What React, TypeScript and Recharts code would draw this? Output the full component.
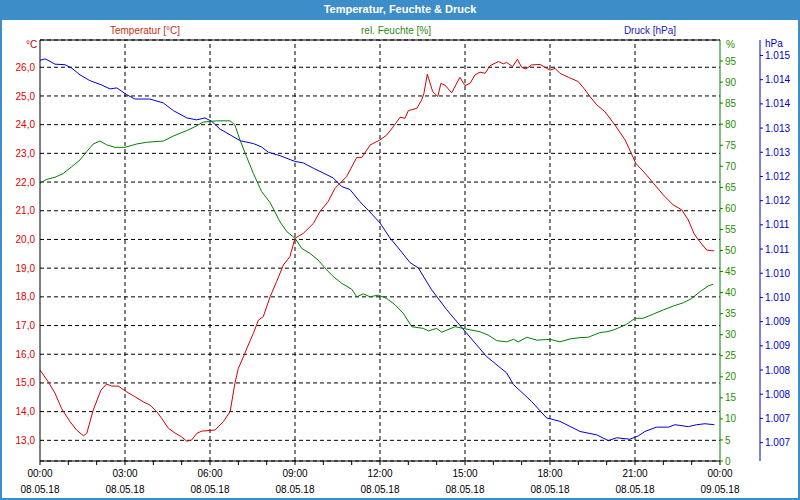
import React from 'react'
import {
  LineChart,
  Line,
  XAxis,
  YAxis,
  CartesianGrid,
  ReferenceLine,
} from 'recharts'

// Hours since 08.05.18 00:00 and readings
const TEMP_HOURS = [
  0, 0.29, 0.53, 0.76, 1.06, 1.29, 1.53, 1.65, 1.88, 2.15, 2.35, 2.53, 2.76, 3.06, 3.35, 3.65, 3.88,
  4.12, 4.29, 4.53, 4.76, 5.0, 5.18, 5.35, 5.53, 5.7, 6.18, 6.47, 6.71, 6.88, 7.0, 7.18, 7.35, 7.53,
  7.71, 7.88, 8.12, 8.35, 8.59, 8.82, 9.0, 9.29, 9.65, 9.88, 10.17, 10.41, 10.82, 11.18, 11.36, 11.65,
  12.0, 12.24, 12.47, 12.71, 12.88, 13.0, 13.3, 13.47, 13.55, 13.67, 13.86, 14.04, 14.15, 14.29, 14.53,
  14.82, 15.0, 15.18, 15.35, 15.53, 15.71, 15.88, 16.18, 16.35, 16.47, 16.68, 16.85, 17.0, 17.15, 17.35,
  17.65, 17.82, 18.0, 18.18, 18.35, 18.65, 19.0, 19.24, 19.41, 19.65, 19.94, 20.29, 20.65, 21.03, 21.35,
  21.65, 22.0, 22.35, 22.65, 22.88, 23.08, 23.24, 23.53, 23.79,
]
const TEMP_VALUES = [
  15.45, 15.04, 14.64, 14.11, 13.65, 13.36, 13.16, 13.24, 14.06, 14.75, 14.96, 14.89, 14.89, 14.69, 14.52,
  14.34, 14.23, 14.0, 13.77, 13.42, 13.26, 13.12, 12.97, 13.01, 13.24, 13.32, 13.36, 13.65, 14.0, 14.99,
  15.51, 15.91, 16.32, 16.73, 17.19, 17.31, 18.0, 18.53, 19.11, 19.4, 20.04, 20.21, 20.56, 20.97, 21.32,
  21.78, 22.19, 22.86, 22.86, 23.29, 23.47, 23.64, 23.93, 24.26, 24.22, 24.49, 24.57, 24.86, 25.09, 25.76,
  25.15, 24.98, 25.44, 25.38, 25.11, 25.65, 25.36, 25.44, 25.73, 25.83, 25.79, 26.05, 26.2, 26.12, 26.17,
  26.02, 26.28, 26.0, 25.94, 26.08, 26.1, 26.0, 25.9, 25.96, 25.79, 25.65, 25.5, 25.21, 24.98, 24.69,
  24.45, 23.99, 23.47, 22.65, 22.31, 21.96, 21.55, 21.2, 21.03, 20.68, 20.21, 19.98, 19.63, 19.6,
]

const HUM_HOURS = [
  0, 0.24, 0.53, 0.82, 1.12, 1.41, 1.65, 1.88, 2.12, 2.35, 2.65, 3.0, 3.41, 3.76, 4.35, 4.71, 5.18, 5.47,
  5.76, 6.24, 6.71, 6.88, 7.06, 7.29, 7.53, 7.82, 8.12, 8.29, 8.47, 8.71, 9.0, 9.24, 9.53, 9.82, 10.12,
  10.35, 10.65, 11.0, 11.18, 11.41, 11.65, 11.94, 12.24, 12.53, 12.82, 13.12, 13.53, 13.71, 14.0, 14.18,
  14.65, 15.0, 15.53, 15.82, 16.12, 16.47, 16.71, 16.88, 17.18, 17.53, 18.0, 18.35, 18.71, 19.06, 19.35,
  19.76, 20.0, 20.24, 20.71, 21.0, 21.29, 21.65, 22.0, 22.35, 22.71, 23.0, 23.29, 23.59, 23.76,
]
const HUM_VALUES = [
  66.0, 66.9, 67.4, 68.3, 69.9, 71.5, 73.5, 75.3, 76.0, 75.1, 74.5, 74.5, 75.3, 75.7, 76.0, 77.2, 78.5,
  79.4, 80.5, 80.8, 80.8, 79.8, 76.2, 72.3, 68.3, 64.0, 61.4, 59.2, 56.8, 54.5, 52.9, 50.5, 49.3, 47.7,
  45.4, 43.8, 42.2, 40.8, 39.0, 39.7, 39.0, 39.4, 38.6, 37.1, 35.1, 31.9, 31.5, 30.9, 31.5, 30.6, 31.9,
  31.4, 30.7, 29.9, 28.6, 28.3, 28.9, 28.3, 29.4, 28.7, 28.9, 28.3, 29.0, 29.3, 29.4, 30.5, 30.7, 31.1,
  32.5, 33.9, 33.9, 34.9, 35.9, 36.8, 37.6, 38.6, 40.2, 41.6, 42.0,
]

const PRES_HOURS = [
  0, 0.18, 0.35, 0.53, 0.88, 1.12, 1.41, 1.76, 2.18, 2.47, 2.71, 3.06, 3.35, 3.88, 4.35, 4.71, 5.18, 5.53,
  5.82, 6.06, 6.35, 6.71, 7.06, 7.53, 7.82, 8.06, 8.47, 9.0, 9.29, 9.65, 10.0, 10.35, 10.65, 10.94, 11.29,
  11.59, 12.0, 12.35, 12.65, 13.06, 13.35, 13.82, 14.35, 15.0, 15.41, 15.76, 16.47, 16.71, 17.35, 17.88,
  18.35, 19.06, 19.65, 20.06, 20.35, 20.82, 21.12, 21.35, 21.76, 22.18, 22.41, 22.88, 23.18, 23.47, 23.8,
]
const PRES_VALUES = [
  1014.9, 1014.93, 1014.88, 1014.82, 1014.81, 1014.74, 1014.6, 1014.48, 1014.39, 1014.31, 1014.33,
  1014.19, 1014.1, 1014.1, 1014.02, 1013.86, 1013.71, 1013.67, 1013.71, 1013.64, 1013.48, 1013.36,
  1013.24, 1013.18, 1013.11, 1013.0, 1012.93, 1012.81, 1012.78, 1012.67, 1012.57, 1012.47, 1012.29,
  1012.23, 1011.98, 1011.8, 1011.54, 1011.23, 1011.02, 1010.72, 1010.61, 1010.16, 1009.75, 1009.3,
  1009.02, 1008.78, 1008.44, 1008.2, 1007.85, 1007.51, 1007.44, 1007.23, 1007.16, 1007.04, 1007.1,
  1007.07, 1007.14, 1007.23, 1007.32, 1007.32, 1007.37, 1007.33, 1007.37, 1007.39, 1007.37,
]

// axis ticks
const HOUR_TICKS = Array.from({ length: 25 }, (_, i) => i)
const GRID_HOURS = [3, 6, 9, 12, 15, 18, 21]
const TEMP_TICKS = [13, 14, 15, 16, 17, 18, 19, 20, 21, 22, 23, 24, 25, 26]
const HUM_TICKS = [0, 5, 10, 15, 20, 25, 30, 35, 40, 45, 50, 55, 60, 65, 70, 75, 80, 85, 90, 95]
const PRES_TICKS = [
  1007, 1007.5, 1008, 1008.5, 1009, 1009.5, 1010, 1010.5, 1011, 1011.5, 1012, 1012.5, 1013, 1013.5,
  1014, 1014.5, 1015,
]
const TEMP_DOMAIN = [12.28, 26.95]
const PRES_DOMAIN = [1006.62, 1015.32]

const FONT = '"Liberation Sans", Arial, sans-serif'
const FS = 10
const FRAME = '#3d8ec8'
const RED = '#d40000'
const GREEN = '#008000'
const BLUE = '#0000d0'

const toPoints = (hours: number[], values: number[]) =>
  hours.map((h, i) => ({ h, v: values[i] }))

const tempData = toPoints(TEMP_HOURS, TEMP_VALUES)
const humData = toPoints(HUM_HOURS, HUM_VALUES)
const presData = toPoints(PRES_HOURS, PRES_VALUES)

function TimeTick({ x, y, payload }: any) {
  const h = payload.value as number
  if (h % 3 !== 0) return null
  const hh = String(h % 24).padStart(2, '0')
  const date = h === 24 ? '09.05.18' : '08.05.18'
  return (
    <text x={x} y={y} textAnchor="middle" fontSize={FS} fontFamily={FONT} fill="#000">
      <tspan x={x} dy={12}>{`${hh}:00`}</tspan>
      <tspan x={x} dy={16}>{date}</tspan>
    </text>
  )
}

const label = (text: string, color: string, left: number, top: number, anchor = 'center') => (
  <div
    style={{
      position: 'absolute',
      left,
      top,
      transform: anchor === 'center' ? 'translateX(-50%)' : undefined,
      color,
      fontSize: FS,
      fontFamily: FONT,
      whiteSpace: 'nowrap',
      lineHeight: '11px',
    }}
  >
    {text}
  </div>
)

export default function App() {
  return (
    <div style={{ position: 'relative', width: 800, height: 500, background: '#fff', fontFamily: FONT }}>
      <style>{'body{margin:0}'}</style>
      <LineChart
        width={800}
        height={500}
        margin={{ top: 40, right: 0, bottom: 2, left: 0 }}
        style={{ position: 'absolute', left: 0, top: 0 }}
      >
        <CartesianGrid yAxisId="temp" vertical={false} stroke="#000" strokeDasharray="4 3" />
        <XAxis
          dataKey="h"
          type="number"
          domain={[0, 24]}
          ticks={HOUR_TICKS}
          interval={0}
          height={37}
          stroke="#000"
          tickSize={4}
          tickMargin={0}
          tick={<TimeTick />}
          allowDuplicatedCategory={false}
        />
        <YAxis
          yAxisId="temp"
          orientation="left"
          width={40}
          domain={TEMP_DOMAIN}
          ticks={TEMP_TICKS}
          interval={0}
          stroke="#000"
          tickLine={false}
          tickSize={0}
          tickMargin={5}
          tick={{ fill: '#e00000', fontSize: FS, fontFamily: FONT }}
          tickFormatter={(v: number) => v.toFixed(1).replace('.', ',')}
        />
        <YAxis
          yAxisId="hum"
          orientation="right"
          width={40}
          domain={[0, 100]}
          ticks={HUM_TICKS}
          interval={0}
          stroke={GREEN}
          tickSize={3}
          tickMargin={2}
          tick={{ fill: '#1f8f00', fontSize: FS, fontFamily: FONT, textAnchor: 'start' }}
        />
        <YAxis
          yAxisId="pres"
          orientation="right"
          width={40}
          domain={PRES_DOMAIN}
          ticks={PRES_TICKS}
          interval={0}
          stroke={BLUE}
          tickSize={3}
          tickMargin={2}
          tick={{ fill: BLUE, fontSize: FS, fontFamily: FONT, textAnchor: 'start' }}
          tickFormatter={(v: number) => (Math.floor(v) / 1000).toFixed(3)}
        />
        {GRID_HOURS.map((h) => (
          <ReferenceLine key={h} x={h} yAxisId="temp" stroke="#000" strokeDasharray="4 3" />
        ))}
        <ReferenceLine y={TEMP_DOMAIN[1]} yAxisId="temp" stroke="#000" />
        <Line
          data={presData}
          dataKey="v"
          yAxisId="pres"
          stroke={BLUE}
          strokeWidth={1}
          dot={false}
          type="linear"
          isAnimationActive={false}
        />
        <Line
          data={humData}
          dataKey="v"
          yAxisId="hum"
          stroke={GREEN}
          strokeWidth={1}
          dot={false}
          type="linear"
          isAnimationActive={false}
        />
        <Line
          data={tempData}
          dataKey="v"
          yAxisId="temp"
          stroke={RED}
          strokeWidth={1}
          dot={false}
          type="linear"
          isAnimationActive={false}
        />
      </LineChart>

      {/* title bar and frame */}
      <div
        style={{
          position: 'absolute',
          left: 0,
          top: 0,
          width: 800,
          height: 20,
          background: FRAME,
          color: '#fff',
          fontWeight: 'bold',
          fontSize: 11,
          lineHeight: '19px',
          textAlign: 'center',
        }}
      >
        Temperatur, Feuchte &amp; Druck
      </div>
      <div
        style={{
          position: 'absolute',
          left: 0,
          top: 0,
          width: 800,
          height: 500,
          boxSizing: 'border-box',
          border: `2px solid ${FRAME}`,
          pointerEvents: 'none',
        }}
      />

      {/* series captions and unit labels */}
      {label('Temperatur [°C]', '#c83010', 145, 25)}
      {label('rel. Feuchte [%]', '#2a8a10', 396, 25)}
      {label('Druck [hPa]', '#2020c0', 650, 25)}
      {label('°C', '#c00000', 26, 39, 'left')}
      {label('%', '#1f8f00', 726, 39, 'left')}
      {label('hPa', BLUE, 765, 38, 'left')}
    </div>
  )
}
